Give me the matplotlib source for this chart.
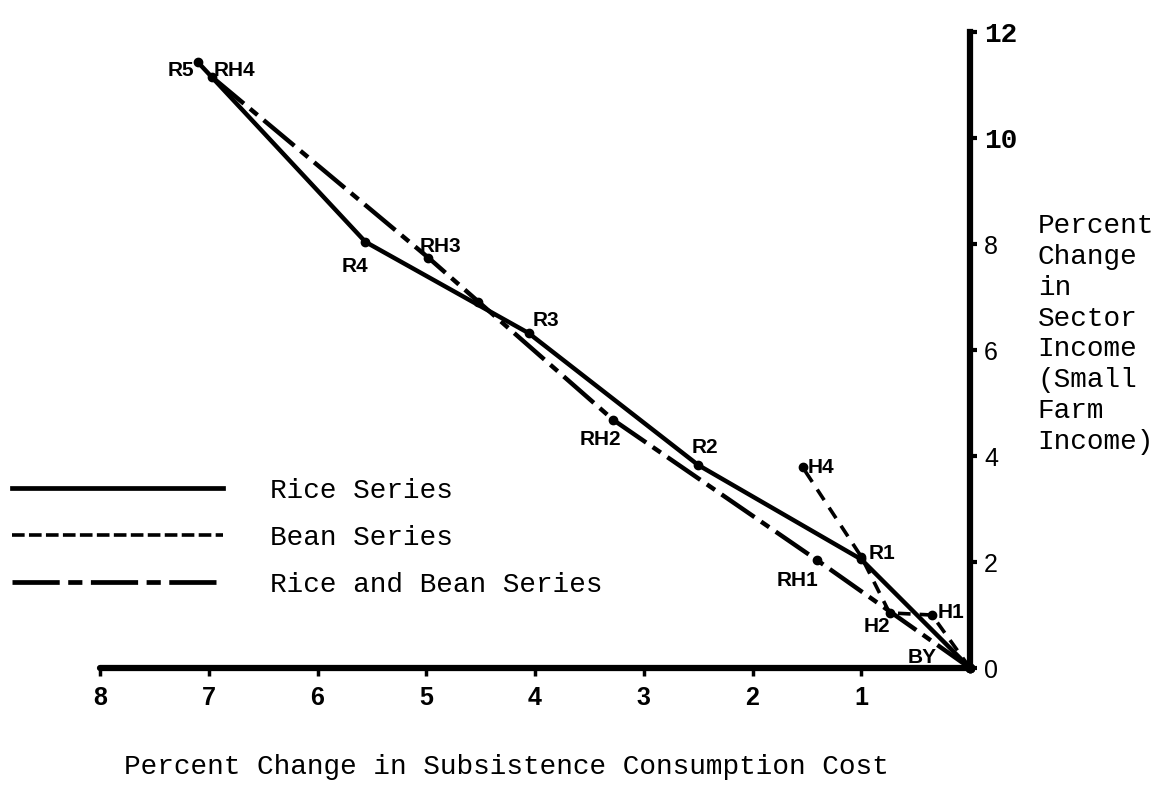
import matplotlib
matplotlib.use('Agg')
import matplotlib.pyplot as plt
from matplotlib.lines import Line2D

# Percent change in subsistence consumption cost (x) vs sector income (y)
rice_x = [0.0, 1.0, 2.50, 4.06, 5.56, 7.10]
rice_y = [0.0, 2.05, 3.83, 6.32, 8.04, 11.43]
rice_names = ["", "R1", "R2", "R3", "R4", "R5"]

bean_x = [0.0, 0.35, 0.74, 1.0, 1.54]
bean_y = [0.0, 1.0, 1.04, 2.1, 3.79]
bean_names = ["BY", "H1", "H2", "", "H4"]

rb_x = [0.0, 1.41, 3.28, 4.52, 4.98, 6.97]
rb_y = [0.0, 2.04, 4.68, 6.91, 7.74, 11.15]
rb_names = ["", "RH1", "RH2", "", "RH3", "RH4"]

x_ticks = [8, 7, 6, 5, 4, 3, 2, 1]
y_ticks = [0, 2, 4, 6, 8, 10, 12]

legend_labels = ["Rice Series", "Bean Series", "Rice and Bean Series"]

# label placement (pixel offsets from the point)
label_offsets = {
    "R1": (21, 6, "center"), "R2": (7, 18, "center"), "R3": (17, 13, "center"),
    "R4": (-10, -25, "center"), "R5": (-4, -8, "right"),
    "H1": (6, 3, "left"), "H2": (-13, -14, "center"), "H4": (5, 0, "left"),
    "BY": (-48, 11, "center"),
    "RH1": (-19, -21, "center"), "RH2": (-13, -20, "center"),
    "RH3": (12, 11, "center"), "RH4": (2, 7, "left"),
}

mono = "Liberation Mono"
sans = "Liberation Sans"

bean_dash = (0, (3.5, 2.5))
rb_dash = (0, (9, 1.8, 2.2, 1.8))

fig = plt.figure(figsize=(11.62, 7.86), dpi=100)
ax = fig.add_axes([0.0861, 0.1501, 0.7487, 0.8092])

ax.plot(rice_x, rice_y, color="black", lw=3.2, ls="-", marker="o", ms=6,
        clip_on=False, solid_capstyle="round")
ax.plot(bean_x, bean_y, color="black", lw=2.6, ls=bean_dash, marker="o", ms=6,
        clip_on=False)
ax.plot(rb_x, rb_y, color="black", lw=3.2, ls=rb_dash, marker="o", ms=6,
        clip_on=False)

for xs, ys, names in [(rice_x, rice_y, rice_names), (bean_x, bean_y, bean_names),
                      (rb_x, rb_y, rb_names)]:
    for x, y, n in zip(xs, ys, names):
        if not n:
            continue
        dx, dy, ha = label_offsets[n]
        ax.annotate(n, (x, y), xytext=(dx, dy), textcoords="offset pixels",
                    ha=ha, va="center", fontsize=15, fontweight="bold",
                    family=sans)

ax.set_xlim(8, 0)
ax.set_ylim(0, 12)
for s in ["top", "left"]:
    ax.spines[s].set_visible(False)
ax.spines["bottom"].set_linewidth(4.5)
ax.spines["right"].set_linewidth(4.5)
ax.spines["bottom"].set_capstyle("round")

ax.set_xticks(x_ticks)
ax.set_xticklabels([str(t) for t in x_ticks])
ax.tick_params(axis="x", direction="out", length=6, width=2.5, pad=7,
               labelsize=18)
for lbl in ax.get_xticklabels():
    lbl.set_family(sans)
    lbl.set_fontweight("bold")

ax.yaxis.tick_right()
ax.set_yticks(y_ticks)
ax.set_yticklabels([str(t) for t in y_ticks])
ax.tick_params(axis="y", direction="out", length=5, width=3, pad=5,
               labelsize=18)
for lbl in ax.get_yticklabels():
    if lbl.get_text() in ("10", "12"):
        lbl.set_family(mono)
        lbl.set_fontweight("bold")
        lbl.set_fontsize(20)
    else:
        lbl.set_family(sans)

fig.text(0.436, 0.024, "Percent Change in Subsistence Consumption Cost",
         ha="center", va="center", fontsize=20, family=mono)
fig.text(0.893, 0.575,
         "Percent\nChange\nin\nSector\nIncome\n(Small\nFarm\nIncome)",
         ha="left", va="center", fontsize=20, family=mono, linespacing=1.24)

handles = [
    Line2D([], [], color="black", lw=3.4, ls="-"),
    Line2D([], [], color="black", lw=2.6, ls=(0, (3.5, 1.2))),
    Line2D([], [], color="black", lw=3.4, ls=(0, (10, 1.8, 3, 1.8))),
]
fig.legend(handles, legend_labels, loc="upper left",
           bbox_to_anchor=(0.0103, 0.392), frameon=False, borderpad=0,
           borderaxespad=0, handlelength=7.6, handletextpad=1.7,
           labelspacing=0.75, prop={"family": mono, "size": 20})

fig.savefig("out.png", dpi=100)
